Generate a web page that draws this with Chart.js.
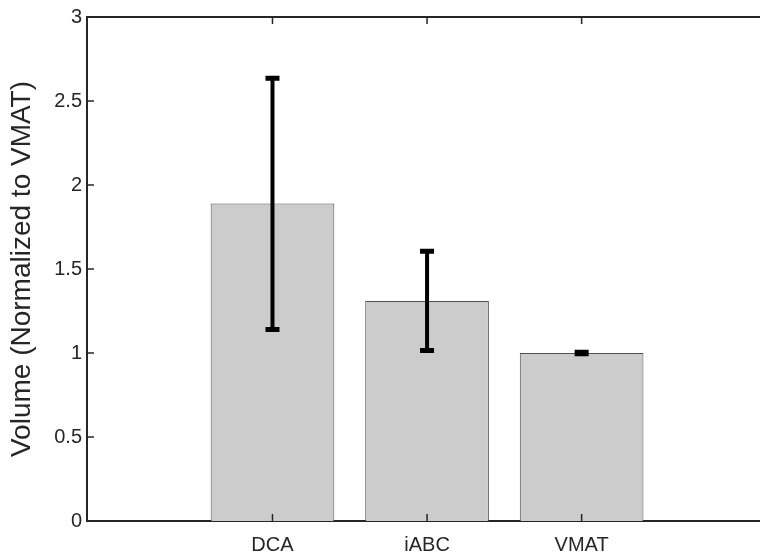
<!DOCTYPE html>
<html>
<head>
<script src="https://cdn.jsdelivr.net/npm/chart.js"></script>
<style>
  html, body { margin: 0; padding: 0; background: #fff; overflow: hidden; }
  #wrap { width: 760px; height: 556px; }
</style>
</head>
<body>
<div id="wrap"><canvas id="chart"></canvas></div>
<script>
// data
const categories = ['DCA', 'iABC', 'VMAT'];
const positions = [1, 2, 3];
const volumes = [1.89, 1.31, 1.0];
const errLow = [1.14, 1.015, 0.995];
const errHigh = [2.635, 1.605, 1.005];
const yTicks = [0, 0.5, 1, 1.5, 2, 2.5, 3];

const axisColor = '#262626';
const fontFamily = '"Liberation Sans", Arial, Helvetica, sans-serif';
const tickFont = { family: fontFamily, size: 20 };
const titleFont = { family: fontFamily, size: 28 };

// error bars, inward ticks and top box line
const extras = {
  id: 'extras',
  afterDatasetsDraw(chart) {
    const ctx = chart.ctx;
    const x = chart.scales.x, y = chart.scales.y;
    const area = chart.chartArea;
    ctx.save();
    ctx.strokeStyle = '#000';
    positions.forEach((p, i) => {
      const px = x.getPixelForValue(p);
      const top = y.getPixelForValue(errHigh[i]);
      const bot = y.getPixelForValue(errLow[i]);
      ctx.lineWidth = 4;
      ctx.beginPath();
      ctx.moveTo(px, top);
      ctx.lineTo(px, bot);
      ctx.stroke();
      ctx.lineWidth = 5;
      ctx.beginPath();
      ctx.moveTo(px - 7, top); ctx.lineTo(px + 7, top);
      ctx.moveTo(px - 7, bot); ctx.lineTo(px + 7, bot);
      ctx.stroke();
    });
    // inward ticks
    ctx.strokeStyle = axisColor;
    ctx.lineWidth = 1.5;
    ctx.beginPath();
    yTicks.forEach(v => {
      const py = y.getPixelForValue(v);
      ctx.moveTo(area.left, py); ctx.lineTo(area.left + 7, py);
    });
    positions.forEach(p => {
      const px = x.getPixelForValue(p);
      ctx.moveTo(px, area.bottom); ctx.lineTo(px, area.bottom - 7);
      ctx.moveTo(px, area.top); ctx.lineTo(px, area.top + 7);
    });
    ctx.stroke();
    // box top
    ctx.lineWidth = 2;
    ctx.beginPath();
    ctx.moveTo(area.left, area.top);
    ctx.lineTo(area.right, area.top);
    ctx.stroke();
    ctx.restore();
  }
};

new Chart(document.getElementById('chart'), {
  type: 'bar',
  data: {
    datasets: [{
      data: positions.map((p, i) => ({ x: p, y: volumes[i] })),
      backgroundColor: '#cccccc',
      borderColor: '#505050',
      borderWidth: 1,
      barPercentage: 1,
      categoryPercentage: 0.8
    }]
  },
  options: {
    responsive: true,
    maintainAspectRatio: false,
    animation: false,
    layout: { padding: { top: 8, right: 0, left: 0, bottom: 0 } },
    plugins: { legend: { display: false }, tooltip: { enabled: false } },
    scales: {
      x: {
        type: 'linear',
        offset: false,
        min: -0.2,
        max: 4.154,
        afterBuildTicks(scale) {
          scale.ticks = positions.map(v => ({ value: v }));
        },
        afterFit(scale) { scale.height = 35; },
        grid: { display: false, drawTicks: false, offset: false },
        border: { display: true, color: axisColor, width: 2 },
        ticks: {
          color: axisColor,
          font: tickFont,
          padding: 12,
          maxRotation: 0,
          autoSkip: false,
          callback: v => categories[positions.indexOf(v)] || ''
        }
      },
      y: {
        min: 0,
        max: 3,
        afterBuildTicks(scale) {
          scale.ticks = yTicks.map(v => ({ value: v }));
        },
        afterFit(scale) { scale.width = 87; },
        grid: { display: false, drawTicks: false },
        border: { display: true, color: axisColor, width: 2 },
        title: {
          display: true,
          text: 'Volume (Normalized to VMAT)',
          color: axisColor,
          font: titleFont,
          padding: { top: 5, bottom: 4 }
        },
        ticks: {
          color: axisColor,
          font: tickFont,
          padding: 5,
          callback: v => String(v)
        }
      }
    }
  },
  plugins: [extras]
});
</script>
</body>
</html>
